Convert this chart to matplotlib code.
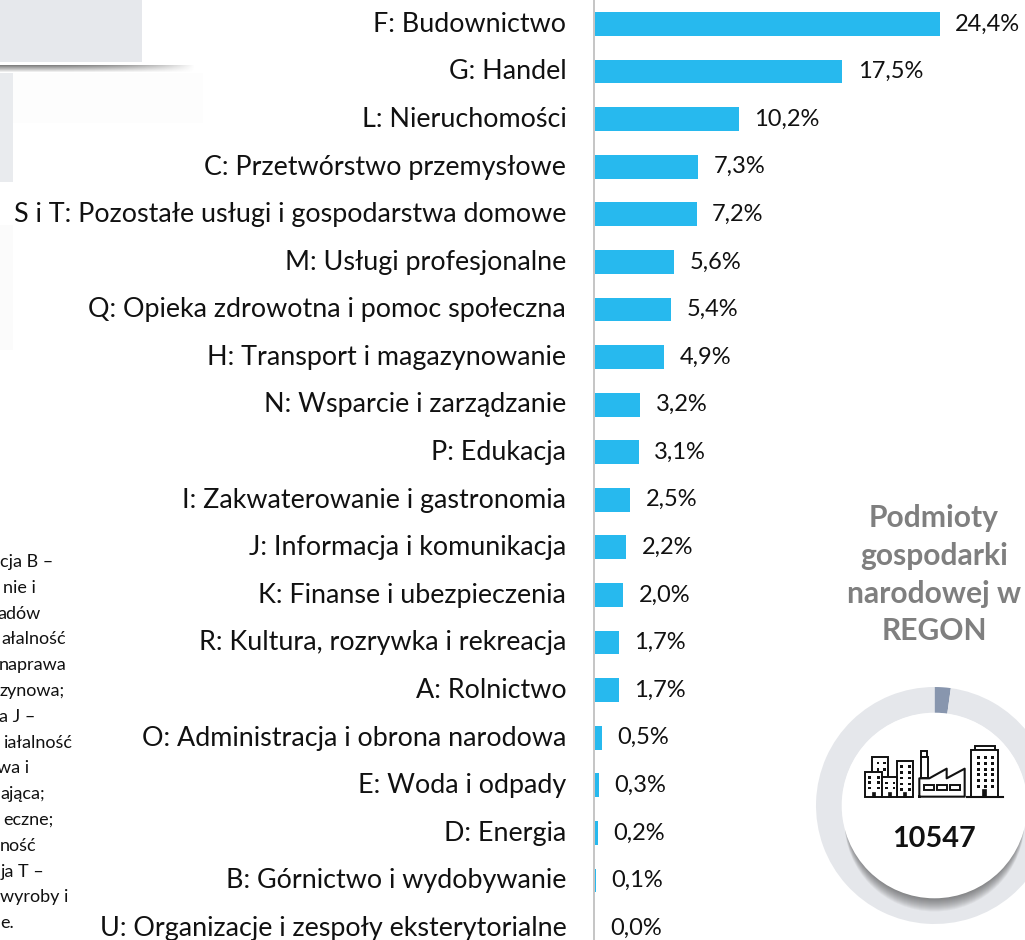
import numpy as np
import matplotlib
matplotlib.use('Agg')
import matplotlib.pyplot as plt
from matplotlib.patches import Rectangle, Circle

plt.rcParams['font.family'] = ['Lato', 'DejaVu Sans']

categories = ['F: Budownictwo', 'G: Handel', 'L: Nieruchomości', 'C: Przetwórstwo przemysłowe',
              'S i T: Pozostałe usługi i gospodarstwa domowe', 'M: Usługi profesjonalne',
              'Q: Opieka zdrowotna i pomoc społeczna', 'H: Transport i magazynowanie',
              'N: Wsparcie i zarządzanie', 'P: Edukacja', 'I: Zakwaterowanie i gastronomia',
              'J: Informacja i komunikacja', 'K: Finanse i ubezpieczenia',
              'R: Kultura, rozrywka i rekreacja', 'A: Rolnictwo',
              'O: Administracja i obrona narodowa', 'E: Woda i odpady', 'D: Energia',
              'B: Górnictwo i wydobywanie', 'U: Organizacje i zespoły eksterytorialne']
values = [24.4, 17.5, 10.2, 7.3, 7.2, 5.6, 5.4, 4.9, 3.2, 3.1, 2.5, 2.2, 2.0, 1.7, 1.7, 0.5, 0.3, 0.2, 0.1, 0.0]
donut_values = [2.2, 97.8]
title_lines = ['Podmioty', 'gospodarki', 'narodowej w', 'REGON']
total_label = '10547'
# cut off at the left edge of the source picture
note_lines = ['cja B –', 'nie i', 'adów', 'ałalność', 'naprawa', 'zynowa;', 'a J –', 'iałalność',
              'wa i', 'ająca;', 'eczne;', 'ność', 'ja T –', 'wyroby i', 'e.']
note_right = [53, 36, 41, 66, 67, 65, 35, 73, 29, 45, 53, 36, 44, 68, 14]

W, H = 1025, 940
fig = plt.figure(figsize=(W / 100, H / 100), dpi=100, facecolor='white')

# pixel space layer for the decoration
bg = fig.add_axes([0, 0, 1, 1], zorder=0)
bg.set_xlim(0, W)
bg.set_ylim(H, 0)
bg.axis('off')

bg.add_patch(Rectangle((0, 0), 142, 62, fc='#E6E8EC', ec='none'))
bg.add_patch(Rectangle((13, 73), 190, 50, fc='#FDFDFD', ec='none'))
fade = np.linspace(0, 1, 200).reshape(1, -1)
shadow = np.ones((8, 200, 4))
shadow[..., :3] = 0.45
shadow[..., 3] = (1 - fade ** 3) * np.linspace(0.9, 0, 8).reshape(-1, 1)
bg.imshow(shadow, extent=(0, 195, 73, 65), aspect='auto', zorder=1)
bg.add_patch(Rectangle((0, 73), 13, 109, fc='#E9EBEE', ec='none'))
bg.add_patch(Rectangle((0, 225), 13, 125, fc='#FBFBFB', ec='none'))
bg.set_xlim(0, W)
bg.set_ylim(H, 0)

for txt, xr, i in zip(note_lines, note_right, range(len(note_lines))):
    bg.text(xr, 562 + i * 25.8, txt, ha='right', va='center', fontsize=13, color='#111111')

for i, t in enumerate(title_lines):
    bg.text(934, 517.5 + i * 38, t, ha='center', va='center', fontsize=21.6, fontweight='bold', color='#7F7F7F')

# bars
ax = fig.add_axes([595 / W, 0, (W - 595) / W, 1], zorder=1)
ax.patch.set_alpha(0)
y = np.arange(len(categories))
bars = ax.barh(y, values, height=0.5, color='#27B9EE', zorder=3)
ax.set_xlim(0, (W - 595) / 14.14)
ax.set_ylim(916 / 47.58, -24 / 47.58)
ax.tick_params(axis='y', length=0, pad=20, labelsize=19.4, labelcolor='#111111')
# ticks are invisible, nudged up a little so the text sits as in the source
ax.set_yticks(y - 0.045, categories)
ax.set_xticks([])
for s in ['top', 'right', 'bottom']:
    ax.spines[s].set_visible(False)
ax.spines['left'].set_color('#B5B5B5')
ax.spines['left'].set_linewidth(1.1)
ax.spines['left'].set_position(('outward', 0.7))
ax.bar_label(bars, labels=[f'{v:.1f}%'.replace('.', ',') for v in values], padding=11,
             fontsize=17, color='#111111', clip_on=False)

# donut
cx, cy, R = 934.5, 805.5, 118.5
dn = fig.add_axes([(cx - R) / W, 1 - (cy + R) / H, 2 * R / W, 2 * R / H], zorder=2)
dn.pie(donut_values, colors=['#8896AE', '#E5E7EB'], startangle=90, counterclock=False, radius=1,
       wedgeprops=dict(width=0.22))
dn.set_xlim(-1, 1)
dn.set_ylim(-1, 1)
dn.set_aspect('auto')
for w in dn.patches:
    w.set_clip_on(False)

top = fig.add_axes([0, 0, 1, 1], zorder=3)
top.set_xlim(0, W)
top.set_ylim(H, 0)
top.axis('off')

# soft shadow under the white disc, offset downwards
for d in np.arange(2, 17, 1.0):
    top.add_patch(Circle((cx, cy + d), 90, fc='#303030', ec='none', alpha=0.05, clip_on=False))
top.add_patch(Circle((cx, cy), 92.8, fc='white', ec='none', clip_on=False))
top.text(cx - 0.5, 839, total_label, ha='center', va='center', fontsize=20.8, fontweight='bold', color='#111111')


def zx(v):
    return 800 + v / 3


def zy(v):
    return 670 + v / 3


def box(x0, y0, x1, y1, fc='white', lw=1.4):
    top.add_patch(Rectangle((zx(x0), zy(y0)), (x1 - x0) / 3, (y1 - y0) / 3, fc=fc, ec='#111111', lw=lw))


def windows(x0, x1, y0, y1, nx, ny, s=8):
    for wx in np.linspace(x0, x1, nx):
        for wy in np.linspace(y0, y1, ny):
            top.add_patch(Rectangle((zx(wx), zy(wy)), s / 3, s / 3, fc='#111111', ec='none'))


# left block
box(215, 262, 265, 320)
box(290, 272, 338, 380)
box(195, 305, 245, 380)
box(245, 320, 290, 380)
windows(230, 250, 275, 295, 2, 2)
windows(300, 325, 285, 355, 2, 5)
windows(205, 232, 318, 350, 2, 3)
windows(255, 278, 335, 350, 2, 2)
for dx in [215, 263, 310]:
    box(dx, 366, dx + 9, 380, fc='#111111', lw=0.5)
# factory
top.plot(zx(np.array([358, 358, 388, 440, 440, 494, 494, 358])),
         zy(np.array([380, 325, 325, 296, 325, 296, 380, 380])), color='#111111', lw=1.5)
box(364, 243, 382, 262)
box(362, 262, 385, 325)
for x0 in [372, 410, 450]:
    box(x0, 345, x0 + 30, 360)
# tower
box(525, 228, 585, 240)
box(513, 240, 593, 380)
windows(530, 572, 258, 345, 3, 6, 9)
box(546, 358, 558, 380, fc='#111111', lw=0.5)
top.plot([zx(502), zx(608)], [zy(380), zy(380)], color='#111111', lw=1.5)

fig.savefig('out.png', dpi=100)
